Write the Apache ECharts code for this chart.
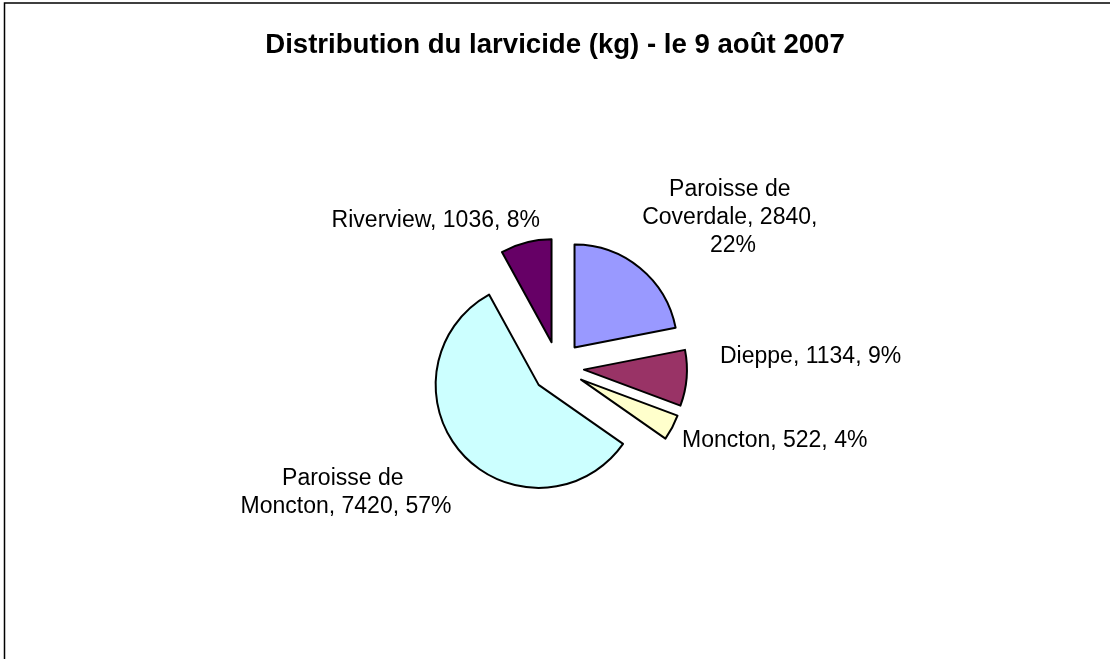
<!DOCTYPE html>
<html>
<head>
<meta charset="utf-8">
<script src="https://cdn.jsdelivr.net/npm/echarts@6/dist/echarts.min.js"></script>
<style>
  html, body { margin: 0; padding: 0; background: #fff; }
  #chart { width: 1110px; height: 659px; }
</style>
</head>
<body>
<div id="chart"></div>
<script>
  // data, clockwise from 12 o'clock
  const zones = ['Paroisse de Coverdale', 'Dieppe', 'Moncton', 'Paroisse de Moncton', 'Riverview'];
  const larvicideKg = [2840, 1134, 522, 7420, 1036];
  const sliceColors = ['#9999FF', '#993366', '#FFFFCC', '#CCFFFF', '#660066'];

  // where Excel put each label (x, y, align, wrap width)
  const labelSpots = [
    [733, 218, 'center', 182],
    [720, 357, 'left', 260],
    [682, 441, 'left', 260],
    [346, 493, 'center', 216],
    [540, 221, 'right', 260]
  ];

  const font = 'Liberation Sans, Arial, sans-serif';
  const chart = echarts.init(document.getElementById('chart'));

  const pieBase = {
    type: 'pie',
    center: [558, 367.5],
    radius: 103,
    startAngle: 90,
    clockwise: true,
    percentPrecision: 0,
    avoidLabelOverlap: false,
    emphasis: { disabled: true }
  };

  const option = {
    animation: false,
    backgroundColor: '#fff',
    title: {
      text: 'Distribution du larvicide (kg) - le 9 août 2007',
      left: 'center',
      top: 26,
      textStyle: { fontSize: 27.6, fontWeight: 'bold', color: '#000', fontFamily: font }
    },
    graphic: [
      {
        type: 'rect',
        shape: { x: 4.5, y: 3, width: 1300, height: 800 },
        style: { fill: 'none', stroke: '#000', lineWidth: 1.5 },
        silent: true
      }
    ],
    series: [
      // exploded slices
      Object.assign({}, pieBase, {
        selectedMode: 'multiple',
        selectedOffset: 26,
        itemStyle: { borderColor: '#000', borderWidth: 2 },
        label: { show: false },
        labelLine: { show: false },
        data: zones.map((name, i) => ({
          name: name,
          value: larvicideKg[i],
          selected: true,
          itemStyle: { color: sliceColors[i] }
        }))
      }),
      // same data, invisible sectors, carries the data labels
      Object.assign({}, pieBase, {
        silent: true,
        z: 3,
        itemStyle: { color: 'rgba(0,0,0,0)', borderWidth: 0 },
        label: {
          show: true,
          position: 'outside',
          formatter: '{b}, {c}, {d}%',
          fontSize: 23,
          lineHeight: 28,
          color: '#000',
          fontFamily: font,
          overflow: 'break'
        },
        labelLine: { show: false },
        labelLayout: function (p) {
          const s = labelSpots[p.dataIndex];
          return { x: s[0], y: s[1], align: s[2], verticalAlign: 'middle' };
        },
        data: zones.map((name, i) => ({
          name: name,
          value: larvicideKg[i],
          label: { width: labelSpots[i][3] }
        }))
      })
    ]
  };

  chart.setOption(option);
</script>
</body>
</html>
